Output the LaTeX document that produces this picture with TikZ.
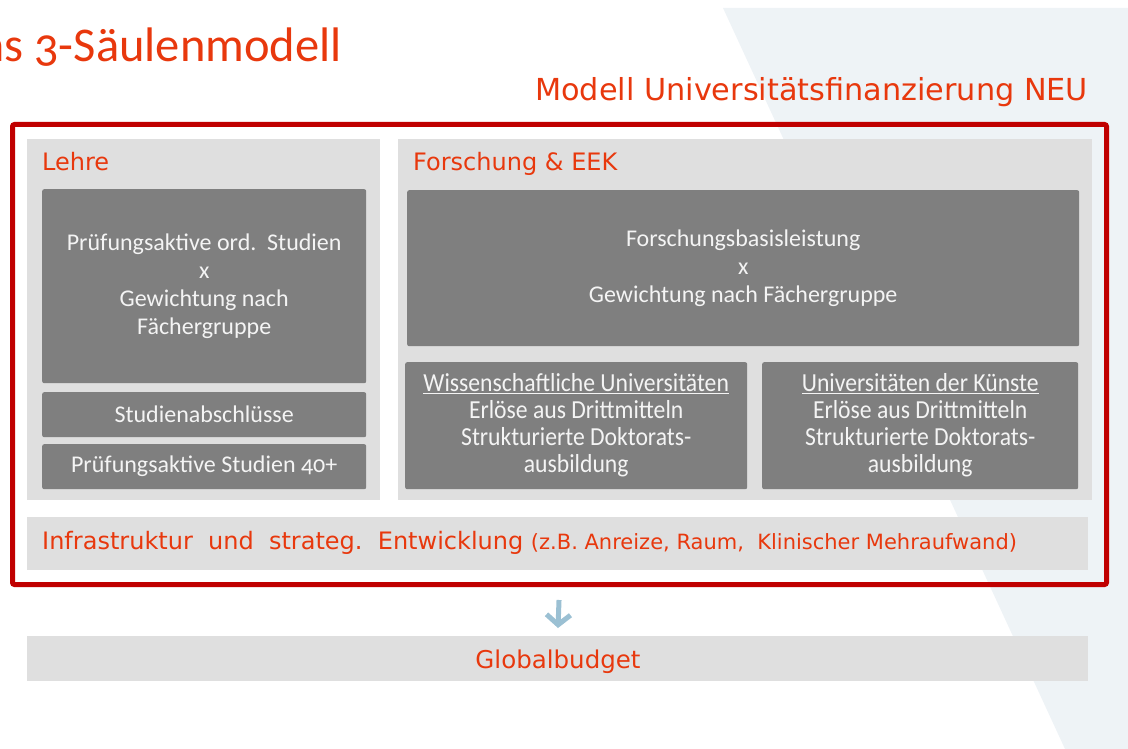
\documentclass[tikz,border=0pt]{standalone}
\usepackage{fontspec}
\setmainfont{Carlito}
\newfontfamily\corb[Numbers=OldStyle]{Carlito}
\newfontfamily\narrowf[FakeStretch=0.91]{Carlito}
\newfontfamily\verd{DejaVu Sans}
\usetikzlibrary{arrows.meta}
\definecolor{titlered}{HTML}{E8380D}
\definecolor{framered}{HTML}{C00000}
\definecolor{panelgray}{HTML}{DFDFDF}
\definecolor{boxgray}{HTML}{7F7F7F}
\definecolor{bgblue}{HTML}{EEF3F6}
\definecolor{arrowblue}{HTML}{9BC0D3}
\definecolor{boxtext}{HTML}{F4F4F4}
\tikzset{
  panel/.style={fill=panelgray, inner sep=0pt, anchor=north west},
  darkbox/.style={fill=boxgray, rounded corners=2pt, inner sep=0pt, anchor=north west,
    text=boxtext, align=center, font=\corb\fontsize{24}{28}\selectfont},
  narrowbox/.style={darkbox, font=\narrowf\fontsize{26}{27}\selectfont},
  redlabel/.style={text=titlered, inner sep=0pt, anchor=base west, font=\verd\fontsize{24}{24}\selectfont},
}
\begin{document}
\begin{tikzpicture}[x=1pt,y=-1pt]
\useasboundingbox (0,0) rectangle (1128,749);
% background shape
\fill[bgblue] (723,8) -- (1128,8) -- (1128,749) -- (1065,749) -- cycle;
% title (cut at the left edge, as in the slide)
\begin{scope}
\clip (0,0) rectangle (1128,749);
\node[anchor=base east, inner sep=0pt, text=titlered, font=\corb\fontsize{48.5}{48.5}\selectfont] (title) at (342,62) {das 3-Säulenmodell};
\end{scope}
\node[redlabel, font=\verd\fontsize{30.3}{30.3}\selectfont] (subtitle) at (535,101) {Modell Universitätsfinanzierung NEU};
% frame
\node[draw=framered, line width=5pt, rounded corners=2pt, inner sep=0pt, anchor=north west,
  minimum width=1094pt, minimum height=460pt] (frame) at (10,122) {};
% panels
\node[panel, minimum width=353pt, minimum height=361pt] (lehre) at (27,139) {};
\node[panel, minimum width=694pt, minimum height=361pt] (forsch) at (398,139) {};
\node[redlabel] (lehrelbl) at (42,171) {Lehre};
\node[redlabel] (forschlbl) at (413,171) {Forschung \& EEK};
% Lehre boxes
\node[darkbox, minimum width=324pt, minimum height=194pt] (pruef) at (42,189)
  {Prüfungsaktive ord.\ \ Studien\\x\\Gewichtung nach\\Fächergruppe};
\node[darkbox, minimum width=324pt, minimum height=45pt] (abschl) at (42,392) {Studienabschlüsse};
\node[darkbox, minimum width=324pt, minimum height=45pt] (p40) at (42,444) {Prüfungsaktive Studien 40+};
% Forschung boxes
\node[darkbox, minimum width=672pt, minimum height=156pt] (fbl) at (407,190)
  {Forschungsbasisleistung\\x\\Gewichtung nach Fächergruppe};
\node[narrowbox, minimum width=342pt, minimum height=127pt] (wiss) at (405,362)
  {\underline{Wissenschaftliche Universitäten}\\Erlöse aus Drittmitteln\\Strukturierte Doktorats-\\ausbildung};
\node[narrowbox, minimum width=316pt, minimum height=127pt] (kuenste) at (762,362)
  {\underline{Universitäten der Künste}\\Erlöse aus Drittmitteln\\Strukturierte Doktorats-\\ausbildung};
% Infrastruktur
\node[panel, minimum width=1061pt, minimum height=53pt] (infra) at (27,517) {};
\node[redlabel] (infralbl) at (42,549) {Infrastruktur\ \ und\ \ strateg.\ \ Entwicklung\ {\fontsize{21}{21}\selectfont(z.B.\ Anreize,\ Raum,\ \ Klinischer\ Mehraufwand)}};
% Globalbudget
\node[panel, minimum width=1061pt, minimum height=45pt] (global) at (27,636) {};
\node[text=titlered, inner sep=0pt, font=\verd\fontsize{24.5}{24.5}\selectfont, anchor=base] (globallbl) at (558,668) {Globalbudget};
% arrow
\draw[arrowblue, line width=5pt, -{Straight Barb[length=10pt, width=24pt]}, shorten <=13pt, shorten >=8pt] (frame.south) -- (global.north);
\end{tikzpicture}
\end{document}
